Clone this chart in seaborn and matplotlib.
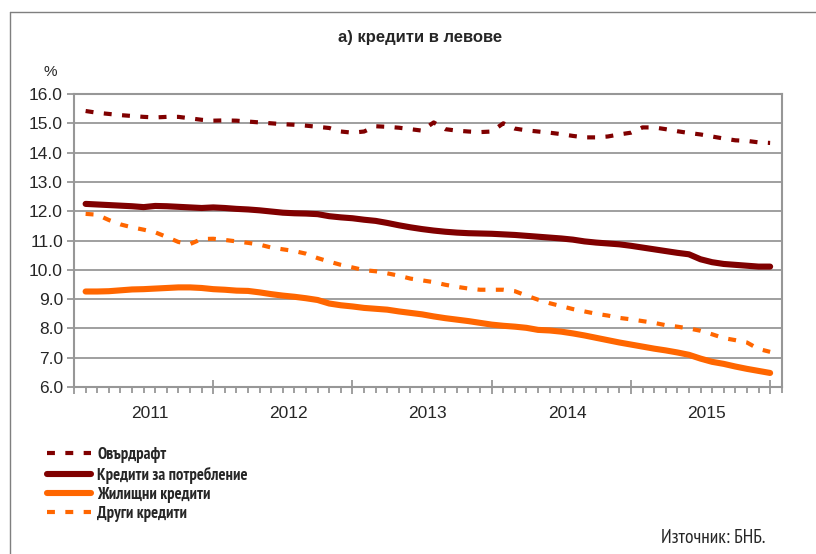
import numpy as np
import pandas as pd
import matplotlib
matplotlib.use("Agg")
import matplotlib.pyplot as plt
from matplotlib.lines import Line2D
from matplotlib import font_manager as fm
import seaborn as sns

# monthly data, Jan 2011 - Dec 2015
months = np.arange(1, 61)
years = ["2011", "2012", "2013", "2014", "2015"]

overdraft = [15.42, 15.36, 15.32, 15.28, 15.25, 15.22, 15.20, 15.22, 15.22, 15.17,
             15.12, 15.09, 15.10, 15.09, 15.06, 15.03, 15.00, 14.97, 14.95, 14.92,
             14.88, 14.84, 14.72, 14.68, 14.72, 14.90, 14.88, 14.85, 14.80, 14.75,
             15.03, 14.80, 14.75, 14.72, 14.70, 14.72, 15.00, 14.82, 14.76, 14.72,
             14.68, 14.63, 14.57, 14.52, 14.52, 14.55, 14.62, 14.68, 14.86, 14.86,
             14.80, 14.73, 14.67, 14.62, 14.55, 14.48, 14.42, 14.40, 14.35, 14.33]

consumer = [12.25, 12.23, 12.21, 12.19, 12.17, 12.14, 12.18, 12.17, 12.15, 12.13,
            12.11, 12.13, 12.11, 12.08, 12.06, 12.03, 11.99, 11.95, 11.93, 11.92,
            11.90, 11.83, 11.79, 11.76, 11.71, 11.67, 11.60, 11.52, 11.45, 11.39,
            11.34, 11.30, 11.27, 11.25, 11.24, 11.23, 11.21, 11.19, 11.16, 11.13,
            11.10, 11.07, 11.03, 10.97, 10.93, 10.90, 10.87, 10.82, 10.76, 10.70,
            10.64, 10.58, 10.53, 10.36, 10.26, 10.20, 10.17, 10.14, 10.11, 10.11]

housing = [9.26, 9.26, 9.27, 9.30, 9.33, 9.34, 9.36, 9.38, 9.40, 9.40,
           9.38, 9.34, 9.32, 9.29, 9.28, 9.23, 9.17, 9.12, 9.08, 9.03,
           8.97, 8.85, 8.79, 8.75, 8.70, 8.67, 8.64, 8.58, 8.53, 8.48,
           8.41, 8.35, 8.30, 8.25, 8.19, 8.13, 8.09, 8.06, 8.02, 7.95,
           7.93, 7.89, 7.83, 7.76, 7.68, 7.60, 7.52, 7.45, 7.38, 7.31,
           7.25, 7.18, 7.10, 6.97, 6.86, 6.79, 6.70, 6.62, 6.55, 6.48]

other = [11.91, 11.88, 11.70, 11.55, 11.45, 11.37, 11.28, 11.12, 10.95, 10.88,
         11.05, 11.06, 11.02, 10.97, 10.92, 10.86, 10.76, 10.70, 10.64, 10.55,
         10.40, 10.28, 10.17, 10.08, 9.99, 9.95, 9.88, 9.80, 9.70, 9.64,
         9.58, 9.49, 9.42, 9.36, 9.32, 9.32, 9.32, 9.27, 9.12, 8.98,
         8.86, 8.76, 8.66, 8.58, 8.50, 8.44, 8.36, 8.31, 8.25, 8.19,
         8.11, 8.06, 8.00, 7.92, 7.80, 7.67, 7.60, 7.52, 7.30, 7.20]

labels = ["Овърдрафт", "Кредити за потребление", "Жилищни кредити", "Други кредити"]

sns.set_theme(style="white")
plt.rcParams["font.family"] = ["Liberation Sans", "DejaVu Sans"]

# narrow face for legend / source, like Arial Narrow in the original
names = {f.name for f in fm.fontManager.ttflist}
narrow = None
for cand in ["Liberation Sans Narrow", "PT Sans Narrow", "Roboto Condensed"]:
    if cand in names:
        narrow = dict(family=[cand, "DejaVu Sans"], stretch="normal", size=12)
        break
if narrow is None:
    narrow = dict(family=["DejaVu Sans"], stretch="condensed", size=10)

DARK = "#800000"
ORANGE = "#FF6600"
GRID = "#979797"
dash = (0, (1.9, 2.5))

styles = [
    (overdraft, DARK, dash, 3.0),
    (consumer, DARK, "-", 4.4),
    (housing, ORANGE, "-", 4.4),
    (other, ORANGE, dash, 3.0),
]

fig = plt.figure(figsize=(8.16, 5.54), dpi=100)
ax = fig.add_axes([0.0907, 0.3014, 0.8673, 0.5289])

for (vals, col, ls, lw), lab in zip(styles, labels):
    df = pd.DataFrame({"month": months, "rate": vals})
    sns.lineplot(data=df, x="month", y="rate", color=col, linestyle=ls,
                 linewidth=lw, ax=ax, label=lab, solid_capstyle="round",
                 dash_capstyle="butt")

ax.set_xlim(0, 61)
ax.set_ylim(6, 16)
ax.set_yticks(np.arange(6, 16.1, 1))
ax.set_yticklabels([f"{v:.1f}" for v in np.arange(6, 16.1, 1)], fontsize=12.5)
ax.yaxis.grid(True, color=GRID, lw=1.3)
ax.set_axisbelow(True)
ax.set_xlabel("")
ax.set_ylabel("")

ax.set_xticks(np.arange(0, 61, 12))
ax.set_xticklabels([])
ax.set_xticks(np.arange(0, 62, 1), minor=True)
ax.tick_params(axis="x", which="major", direction="inout", length=10, width=1.3,
               color=GRID, bottom=True)
ax.tick_params(axis="x", which="minor", direction="out", length=4, width=1.3,
               color=GRID, bottom=True)
ax.tick_params(axis="y", which="major", direction="out", length=5, width=1.3,
               color=GRID, left=True, pad=3)

for sp in ax.spines.values():
    sp.set_color(GRID)
    sp.set_linewidth(1.5)

for k, yr in enumerate(years):
    ax.text(6.5 + 12 * k, -0.065, yr, transform=ax.get_xaxis_transform(),
            ha="center", va="top", fontsize=12.5)

ax.text(-0.034, 1.075, "%", transform=ax.transAxes, ha="center", va="center",
        fontsize=11)
fig.text(0.515, 0.933, "а) кредити в левове", ha="center", va="center",
         fontsize=12, fontweight="bold")

leg = ax.legend(loc="upper left", bbox_to_anchor=(0.058, 0.193),
                bbox_transform=fig.transFigure, frameon=False,
                handlelength=2.65, handletextpad=0.35, labelspacing=0.2,
                borderaxespad=0, borderpad=0,
                prop=dict(weight="bold", **narrow))

src = dict(narrow)
src["size"] = src["size"] + 2
fig.text(0.938, 0.028, "Източник: БНБ.", ha="right", va="center", **src)

# outer frame of the figure
fig.add_artist(Line2D([9.5 / 816, 9.5 / 816], [0, 1 - 11.5 / 554],
                      transform=fig.transFigure, color="#7f7f7f", lw=1))
fig.add_artist(Line2D([9.5 / 816, 1], [1 - 11.5 / 554, 1 - 11.5 / 554],
                      transform=fig.transFigure, color="#7f7f7f", lw=1))

fig.savefig("out.png", dpi=100, facecolor="white")
plt.close(fig)
